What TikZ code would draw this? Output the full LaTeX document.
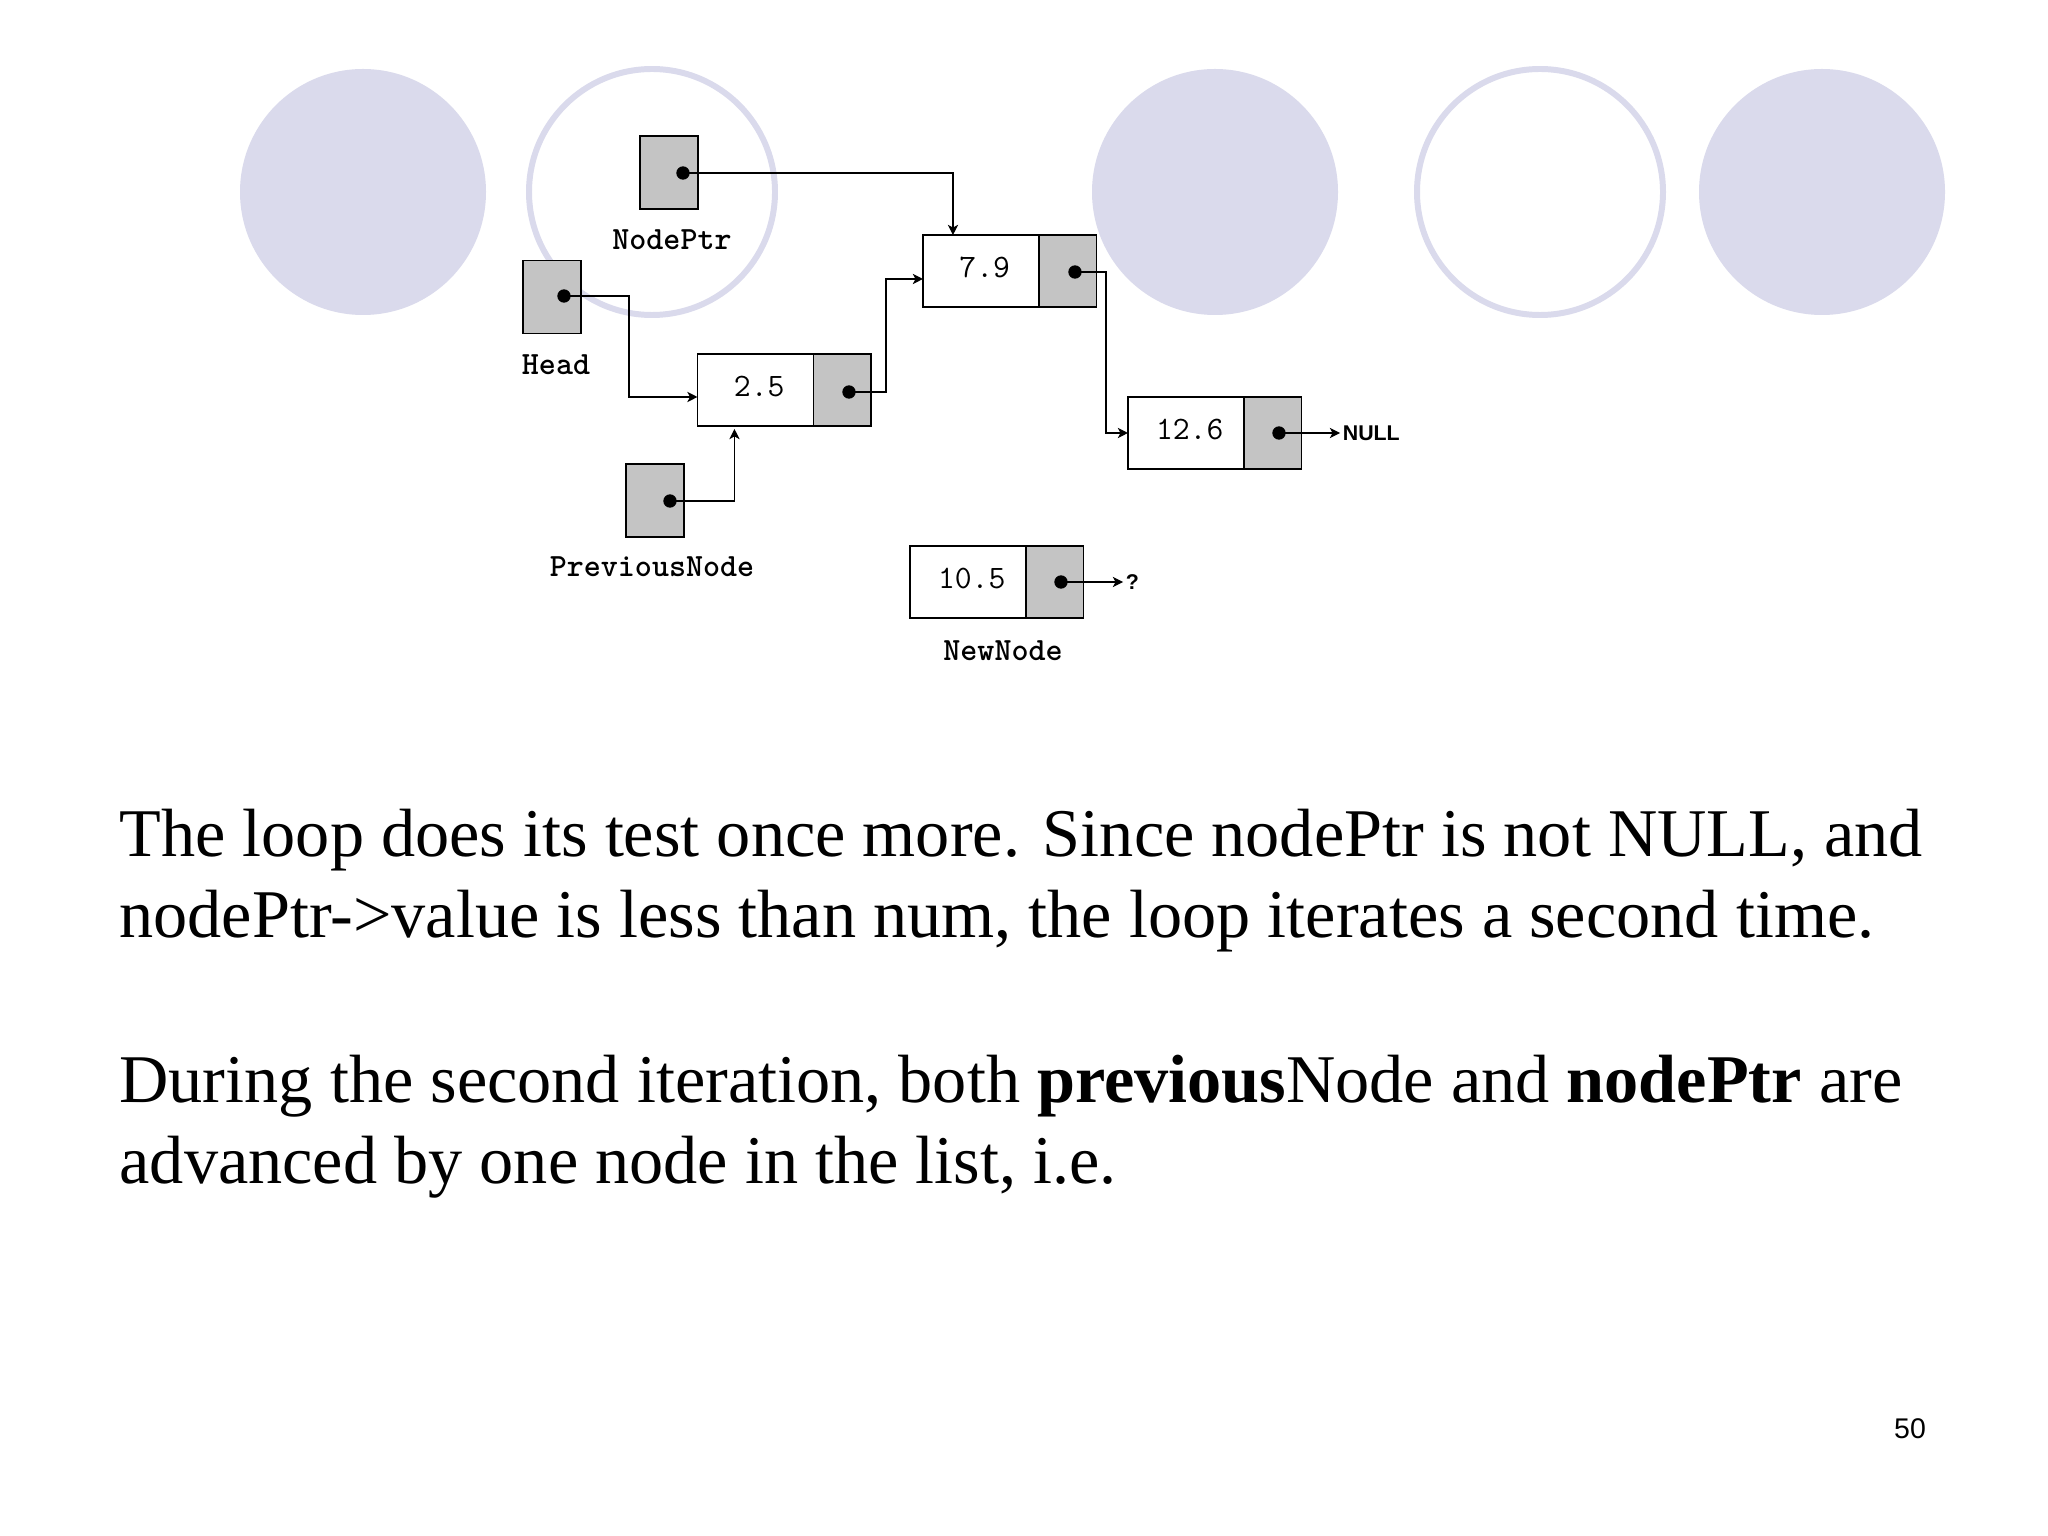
\documentclass[tikz,border=0pt]{standalone}
\usepackage{fontspec}
\setmainfont{Liberation Serif}
\newfontfamily\arialf{Liberation Sans}
\usetikzlibrary{arrows.meta,calc}
\definecolor{lav}{RGB}{218,218,236}
\definecolor{ptrgray}{RGB}{196,196,196}
\tikzset{
 valbox/.style={draw, line width=0.6pt, fill=white, minimum width=40.8pt, minimum height=25.3pt, inner sep=0pt, outer sep=0pt, text depth=2.4pt, execute at begin node={\hspace*{2.6pt}}, font=\ttfamily\fontsize{11.5}{13}\selectfont},
 ptrbox/.style={draw, line width=0.6pt, fill=ptrgray, minimum width=20.2pt, minimum height=25.3pt, inner sep=0pt, outer sep=0pt},
 varbox/.style={draw, line width=0.6pt, fill=ptrgray, minimum width=20.4pt, minimum height=25.7pt, inner sep=0pt, outer sep=0pt},
 dotn/.style={circle, fill=black, inner sep=0pt, minimum size=4.7pt},
 lbl/.style={font=\ttfamily\bfseries\fontsize{11.4}{13}\selectfont, inner sep=0pt},
 arr/.style={line width=0.45pt, -{Stealth[length=3.6pt,width=3.6pt,inset=1pt]}},
 ring/.style={draw=lav, line width=2.1pt},
 disc/.style={fill=lav},
 body/.style={font=\fontsize{24}{28}\selectfont, anchor=base west, inner sep=0pt},
 sanslbl/.style={font=\arialf\bfseries\fontsize{7.5}{9}\selectfont, inner sep=0.8pt, anchor=west},
}
\begin{document}
\begin{tikzpicture}[x=0.3515625pt,y=-0.3515625pt]
\useasboundingbox[fill=white] (0,0) rectangle (2048,1536);
% decorative circles
\fill[disc] (363,192) circle[radius=123];
\draw[ring] (652,192) circle[radius=123];
\fill[disc] (1215,192) circle[radius=123];
\draw[ring] (1540,192) circle[radius=123];
\fill[disc] (1822,192) circle[radius=123];
% pointer variables
\node[varbox] (np) at (669,172.5) {};
\node[varbox] (hd) at (552,297) {};
\node[varbox] (pv) at (655,500.5) {};
\node[lbl] (nplbl) at (672,240) {NodePtr};
\node[lbl] (hdlbl) at (556,365) {Head};
\node[lbl] (pvlbl) at (652,567) {PreviousNode};
% list nodes
\node[valbox] (n25v) at (755.5,390) {2.5};
\node[ptrbox, anchor=west] (n25p) at (n25v.east) {};
\node[valbox] (n79v) at (981,271) {7.9};
\node[ptrbox, anchor=west] (n79p) at (n79v.east) {};
\node[valbox] (n126v) at (1186,433) {12.6};
\node[ptrbox, anchor=west] (n126p) at (n126v.east) {};
\node[valbox] (n105v) at (968,582) {10.5};
\node[ptrbox, anchor=west] (n105p) at (n105v.east) {};
\node[lbl] (nnlbl) at (1003,651) {NewNode};
% dots
\node[dotn] (npd) at (683,173) {};
\node[dotn] (hdd) at (564,296) {};
\node[dotn] (pvd) at (670,501) {};
\node[dotn] (n25d) at (849,392) {};
\node[dotn] (n79d) at (1075,272) {};
\node[dotn] (n126d) at (1279,433) {};
\node[dotn] (n105d) at (1061,582) {};
% end labels
\node[sanslbl] (null) at (1340,433) {NULL};
\node[sanslbl] (q) at (1123,582) {?};
% connectors
\draw[arr] (npd.center) -| ($(n79v.north west)+(30,0)$);
\draw[arr] (hdd.center) -- ++(65,0) |- ($(n25v.west)+(0,7)$);
\draw[arr] (n25d.center) -- ++(37,0) |- ($(n79v.west)+(0,8)$);
\draw[arr] (n79d.center) -- ++(31,0) |- (n126v.west);
\draw[arr] (pvd.center) -| ($(n25v.south west)+(37,3)$);
\draw[arr] (n126d.center) -- (null.west);
\draw[arr] (n105d.center) -- (q.west);
% body text
\node[body] (t1) at (119,856) {The loop does its test once more. Since nodePtr is not NULL, and};
\node[body] (t2) at (119,937) {nodePtr->value is less than num, the loop iterates a second time.};
\node[body] (t3) at (119,1102) {During the second iteration, both \textbf{previous}Node and \textbf{nodePtr} are};
\node[body] (t4) at (119,1183) {advanced by one node in the list, i.e.};
\node[font=\arialf\fontsize{10}{12}\selectfont, anchor=base, inner sep=0pt] (pg) at (1910,1438) {50};
\end{tikzpicture}
\end{document}
